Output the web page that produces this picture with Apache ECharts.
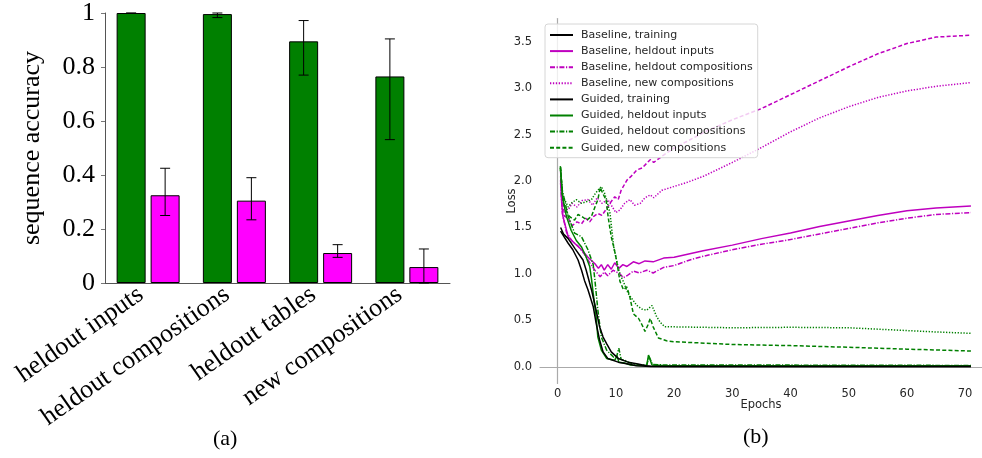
<!DOCTYPE html>
<html>
<head>
<meta charset="utf-8">
<script src="https://cdn.jsdelivr.net/npm/echarts@6/dist/echarts.min.js"></script>
<style>html,body{margin:0;padding:0;background:#fff}#c{width:982px;height:458px}</style>
</head>
<body>
<div id="c"></div>
<script>
// ---------- Panel (a): bar data ----------
const categories = ['heldout inputs', 'heldout compositions', 'heldout tables', 'new compositions'];
const guidedAcc = [1.0, 0.996, 0.895, 0.765];
const guidedLo = [0.999, 0.983, 0.77, 0.531];
const guidedHi = [1.0, 1.0, 0.972, 0.904];
const baselineAcc = [0.325, 0.305, 0.111, 0.059];
const baselineLo = [0.25, 0.234, 0.095, 0.0];
const baselineHi = [0.425, 0.39, 0.142, 0.126];
const accTicks = [0, 0.2, 0.4, 0.6, 0.8, 1];

// ---------- Panel (b): loss curves [epoch, loss] ----------
const baseTrain = [[0.5,1.46],[1.0,1.41],[1.8,1.33],[2.6,1.26],[3.5,1.15],[4.1,1.04],[4.6,0.93],[5.2,0.83],[6.1,0.65],[6.6,0.47],[7.2,0.29],[7.8,0.16],[8.6,0.09],[10.4,0.05],[12.1,0.03],[13.5,0.01],[16,0.004],[20,0.003],[30,0.002],[40,0.002],[50,0.002],[60,0.002],[71,0.002]];
const baseHeldIn = [[0.5,2.01],[0.7,1.75],[0.9,1.62],[1.8,1.40],[2.9,1.33],[4.1,1.26],[5.2,1.18],[6.4,1.11],[7.0,1.06],[7.5,1.10],[8.0,1.04],[8.6,1.10],[9.2,1.05],[9.8,1.12],[10.5,1.06],[11.2,1.10],[11.9,1.08],[13,1.13],[14,1.11],[15,1.14],[16.4,1.13],[18.2,1.17],[20,1.18],[25,1.25],[30,1.31],[35,1.38],[40,1.44],[45,1.51],[50,1.57],[55,1.63],[60,1.68],[65,1.71],[71,1.73]];
const baseHeldComp = [[0.5,1.98],[0.8,1.65],[1.5,1.45],[2.5,1.35],[3.5,1.30],[4.5,1.22],[5.5,1.12],[6.5,1.03],[7.3,0.97],[8.0,1.02],[8.6,0.98],[9.5,1.04],[10.7,1.00],[11.3,0.96],[11.9,0.98],[13,1.03],[14,1.01],[15.3,1.04],[16.4,1.01],[18.2,1.07],[20,1.09],[22.7,1.15],[25,1.19],[30,1.26],[35,1.32],[40,1.37],[45,1.43],[50,1.49],[55,1.55],[60,1.60],[65,1.64],[71,1.66]];
const baseNewComp = [[0.5,2.05],[0.8,1.80],[1.2,1.70],[1.8,1.69],[2.5,1.76],[3.3,1.72],[4.2,1.79],[5.2,1.80],[6.0,1.74],[6.8,1.82],[7.6,1.76],[8.6,1.80],[9.4,1.72],[10.0,1.66],[10.7,1.69],[11.5,1.76],[12.4,1.80],[13.2,1.74],[14.2,1.76],[15.0,1.82],[15.9,1.85],[16.5,1.82],[17.9,1.90],[19.9,1.94],[22,1.98],[25,2.05],[30,2.20],[35,2.36],[40,2.53],[45,2.68],[50,2.80],[55,2.90],[60,2.97],[65,3.02],[71,3.06]];
const baseTables = [[0.5,2.10],[0.8,1.80],[1.2,1.62],[1.8,1.60],[2.5,1.52],[3.3,1.56],[4.1,1.54],[4.8,1.60],[5.5,1.56],[6.2,1.62],[6.9,1.65],[7.6,1.63],[8.6,1.72],[9.2,1.78],[9.8,1.83],[10.4,1.80],[10.9,1.90],[11.9,2.01],[12.6,2.05],[13.6,2.12],[14.5,2.14],[15.9,2.23],[16.5,2.20],[18.2,2.28],[19.9,2.35],[22,2.42],[25,2.52],[30,2.66],[35,2.78],[40,2.93],[45,3.08],[50,3.23],[55,3.37],[60,3.48],[65,3.55],[71,3.57]];
const guidTrain = [[0.5,1.50],[1.0,1.43],[1.8,1.38],[3.0,1.27],[4.35,1.15],[4.9,1.04],[5.2,0.97],[5.8,0.83],[6.6,0.61],[7.2,0.43],[7.8,0.32],[8.4,0.25],[9.2,0.16],[10.4,0.09],[12.1,0.05],[13.8,0.03],[15.2,0.01],[16,0.005],[20,0.003],[30,0.002],[40,0.002],[50,0.002],[60,0.002],[71,0.002]];
const guidHeldIn = [[0.45,2.16],[0.7,1.95],[0.9,1.80],[1.5,1.62],[2.3,1.47],[3.2,1.36],[4.1,1.29],[4.9,1.18],[5.5,1.08],[5.8,0.95],[6.1,0.79],[6.6,0.54],[6.9,0.32],[7.5,0.18],[8.4,0.09],[9.8,0.07],[10.2,0.12],[10.5,0.05],[11.5,0.04],[12.5,0.02],[14,0.015],[15.3,0.015],[15.6,0.126],[16.2,0.02],[18,0.015],[25,0.012],[35,0.012],[45,0.01],[55,0.01],[65,0.01],[71,0.01]];
const guidHeldComp = [[0.45,2.14],[0.8,1.90],[1.8,1.62],[2.9,1.44],[4.1,1.40],[5.2,1.26],[6.1,1.10],[6.4,0.93],[6.9,0.61],[7.5,0.32],[8.4,0.18],[9.5,0.11],[10.0,0.08],[10.5,0.20],[10.9,0.08],[11.5,0.07],[12.5,0.04],[14,0.02],[15.3,0.02],[15.7,0.11],[16.3,0.025],[18,0.02],[30,0.018],[40,0.018],[50,0.016],[60,0.016],[71,0.014]];
const guidNewComp = [[0.5,2.15],[0.8,1.85],[1.3,1.70],[2.0,1.62],[2.9,1.58],[3.5,1.64],[4.1,1.62],[5.0,1.58],[5.8,1.62],[6.4,1.72],[6.9,1.80],[7.3,1.93],[7.8,1.86],[8.3,1.80],[8.7,1.60],[9.2,1.40],[9.6,1.30],[10.1,1.15],[10.7,0.92],[11.3,0.83],[11.9,0.86],[12.4,0.75],[13.0,0.57],[13.9,0.52],[14.5,0.45],[15.0,0.38],[15.5,0.45],[15.9,0.52],[16.4,0.43],[17.3,0.31],[18.7,0.28],[20,0.27],[30,0.24],[40,0.228],[50,0.21],[60,0.19],[71,0.17]];
const guidTables = [[0.5,2.12],[0.8,1.85],[1.2,1.80],[1.8,1.72],[2.3,1.76],[3.2,1.80],[4.1,1.76],[5.0,1.78],[5.8,1.80],[6.4,1.86],[6.9,1.90],[7.5,1.94],[8.0,1.88],[8.4,1.80],[9.0,1.65],[9.6,1.30],[10.2,1.12],[10.7,1.00],[11.4,0.90],[12.1,0.79],[12.9,0.72],[13.6,0.66],[14.5,0.62],[15.3,0.61],[16.2,0.66],[17.0,0.54],[17.6,0.48],[18.4,0.43],[20,0.43],[30,0.42],[40,0.425],[50,0.42],[55,0.405],[60,0.39],[65,0.375],[71,0.36]];
const epochTicks = [0, 10, 20, 30, 40, 50, 60, 70];
const lossTicks = [0, 0.5, 1.0, 1.5, 2.0, 2.5, 3.0, 3.5];

const MAG = '#bf00bf', GRN = '#008000', BLK = '#000000';
const DASHDOT = [5, 1.6, 1.2, 1.6];
const DASHED = [4, 2.2];
const DOTTED = [1.3, 1.6];
const SERIF = 'Liberation Serif';
const SANS = 'DejaVu Sans';

function lineSeries(name, data, color, type) {
  return {
    type: 'line', name: name, xAxisIndex: 1, yAxisIndex: 1,
    data: data, symbol: 'none', showSymbol: false, smooth: false,
    lineStyle: { color: color, width: 1.5, type: type },
    itemStyle: { color: color }, emphasis: { disabled: true }
  };
}

function errSeries(lo, hi, offset) {
  return {
    type: 'custom', xAxisIndex: 0, yAxisIndex: 0, z: 5,
    data: lo.map((v, i) => [i, v, hi[i]]),
    renderItem: function (params, api) {
      const top = api.coord([api.value(0), api.value(2)]);
      const bot = api.coord([api.value(0), api.value(1)]);
      const x = top[0] + offset;
      const st = { stroke: '#000', lineWidth: 1 };
      return { type: 'group', children: [
        { type: 'line', shape: { x1: x, y1: top[1], x2: x, y2: bot[1] }, style: st },
        { type: 'line', shape: { x1: x - 5, y1: top[1], x2: x + 5, y2: top[1] }, style: st },
        { type: 'line', shape: { x1: x - 5, y1: bot[1], x2: x + 5, y2: bot[1] }, style: st }
      ] };
    }
  };
}

const chart = echarts.init(document.getElementById('c'), null, { renderer: 'canvas' });
chart.setOption({
  animation: false,
  backgroundColor: '#fff',
  grid: [
    { left: 105, top: 13, width: 345, height: 270 },
    { left: 540, top: 18.5, right: 0, height: 365 }
  ],
  xAxis: [
    {
      gridIndex: 0, type: 'category', data: categories,
      axisLine: { lineStyle: { color: '#555', width: 1 } },
      axisTick: { alignWithLabel: true, length: 5, lineStyle: { color: '#777' } },
      axisLabel: { rotate: 35, margin: 4, padding: [0, 9, 0, 0], fontFamily: SERIF, fontSize: 26, color: '#000', interval: 0 }
    },
    {
      gridIndex: 1, type: 'value', min: -3.04, max: 72.9,
      axisLine: { lineStyle: { color: '#aaa', width: 1.2 } },
      axisTick: { show: false },
      splitLine: { show: false },
      axisLabel: { customValues: epochTicks, margin: 5, fontFamily: SANS, fontSize: 11.5, color: '#262626' },
      name: 'Epochs', nameLocation: 'middle', nameGap: 16, nameMoveOverlap: false,
      nameTextStyle: { fontFamily: SANS, fontSize: 11.5, color: '#262626', verticalAlign: 'top' }
    }
  ],
  yAxis: [
    {
      gridIndex: 0, type: 'value', min: 0, max: 1, interval: 0.2,
      axisLine: { show: true, lineStyle: { color: '#555', width: 1 } },
      axisTick: { show: true, length: 4, lineStyle: { color: '#777' } },
      splitLine: { show: false },
      axisLabel: {
        margin: 10, fontFamily: SERIF, fontSize: 26, color: '#000',
        formatter: function (v) { const t = accTicks.find(a => Math.abs(a - v) < 1e-6); return t === undefined ? '' : (t === 0 ? '0' : t === 1 ? '1' : t.toFixed(1)); }
      },
      name: 'sequence accuracy', nameLocation: 'middle', nameRotate: 90, nameGap: 60,
      nameTextStyle: { fontFamily: SERIF, fontSize: 26, color: '#000' }
    },
    {
      gridIndex: 1, type: 'value', min: -0.18, max: 3.75,
      axisLine: { show: true, lineStyle: { color: '#aaa', width: 1.2 } },
      axisTick: { show: false },
      splitLine: { show: false },
      axisLabel: { customValues: lossTicks, margin: 8, fontFamily: SANS, fontSize: 11.5, color: '#262626', formatter: v => v.toFixed(1) },
      name: 'Loss', nameLocation: 'middle', nameRotate: 90, nameGap: 28, nameMoveOverlap: false,
      nameTextStyle: { fontFamily: SANS, fontSize: 11.5, color: '#262626', verticalAlign: 'middle' }
    }
  ],
  legend: {
    data: ['Baseline, training', 'Baseline, heldout inputs', 'Baseline, heldout compositions', 'Baseline, new compositions',
           'Guided, training', 'Guided, heldout inputs', 'Guided, heldout compositions', 'Guided, new compositions'],
    orient: 'vertical', left: 545, top: 24,
    padding: [5, 5, 4, 4], itemGap: 4.1, itemWidth: 23, itemHeight: 12,
    backgroundColor: 'rgba(255,255,255,0.8)', borderColor: '#d6d6d6', borderWidth: 1, borderRadius: 3,
    selectedMode: false,
    itemStyle: { opacity: 0 },
    textStyle: { fontFamily: SANS, fontSize: 11, color: '#262626', padding: [0, 0, 0, 3], lineHeight: 12 }
  },
  series: [
    { type: 'bar', name: 'Guided', xAxisIndex: 0, yAxisIndex: 0, data: guidedAcc, barWidth: 29, barGap: '17.2%',
      itemStyle: { color: '#008000', borderColor: '#000', borderWidth: 1 } },
    { type: 'bar', name: 'Baseline', xAxisIndex: 0, yAxisIndex: 0, data: baselineAcc, barWidth: 29, barGap: '17.2%',
      itemStyle: { color: '#ff00ff', borderColor: '#000', borderWidth: 1 } },
    errSeries(guidedLo, guidedHi, -17),
    errSeries(baselineLo, baselineHi, 17),
    lineSeries('Baseline, heldout tables', baseTables, MAG, DASHED),
    lineSeries('Baseline, new compositions', baseNewComp, MAG, DOTTED),
    lineSeries('Baseline, heldout compositions', baseHeldComp, MAG, DASHDOT),
    lineSeries('Baseline, heldout inputs', baseHeldIn, MAG, 'solid'),
    lineSeries('Guided, heldout tables', guidTables, GRN, DOTTED),
    lineSeries('Guided, new compositions', guidNewComp, GRN, DASHED),
    lineSeries('Guided, heldout compositions', guidHeldComp, GRN, DASHDOT),
    lineSeries('Guided, heldout inputs', guidHeldIn, GRN, 'solid'),
    lineSeries('Baseline, training', baseTrain, BLK, 'solid'),
    lineSeries('Guided, training', guidTrain, BLK, 'solid')
  ],
  graphic: [
    { type: 'text', left: 213, top: 428, style: { text: '(a)', fontFamily: SERIF, fontSize: 22, fill: '#000' } },
    { type: 'text', left: 743, top: 426, style: { text: '(b)', fontFamily: SERIF, fontSize: 22, fill: '#000' } }
  ]
});
</script>
</body>
</html>
